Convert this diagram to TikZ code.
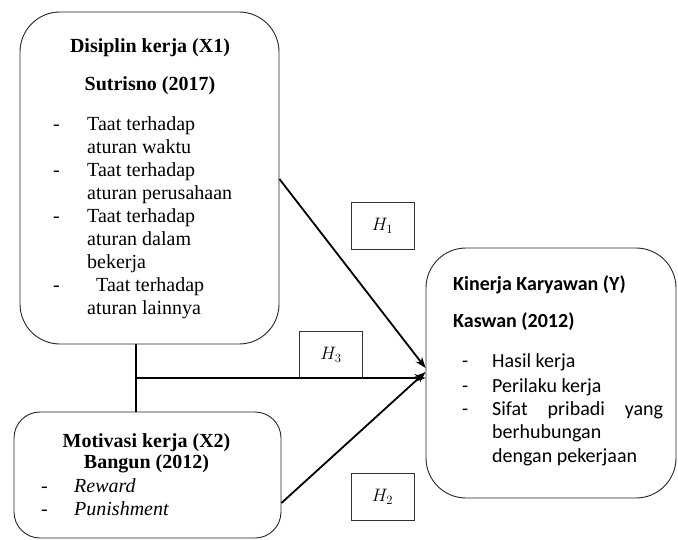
\RequirePackage{fix-cm}
\documentclass[tikz,border=0pt]{standalone}
\usepackage{fontspec}
\setmainfont{Liberation Serif}
\newfontfamily\calfont{Carlito}
\usetikzlibrary{arrows.meta,calc}
\begin{document}
\begin{tikzpicture}[x=1pt,y=-1pt,
  box/.style={draw=black!85,line width=0.9pt,rounded corners=#1,inner sep=0pt},
  box/.default=20pt,
  hbox/.style={draw=black!80,line width=0.9pt,minimum width=63pt,minimum height=47pt,inner sep=0pt,font=\fontsize{18}{21}\selectfont},
  conn/.style={line width=1.8pt},
  arr/.style={conn,-{Stealth[length=11pt,width=8pt]}},
  txt/.style={anchor=base west,inner sep=0pt,font=\fontsize{20}{23}\selectfont},
  head/.style={anchor=base,inner sep=0pt,font=\fontsize{20}{23}\selectfont\bfseries},
  ctxt/.style={anchor=base west,inner sep=0pt,font=\calfont\fontsize{20}{23}\selectfont},
  chead/.style={anchor=base west,inner sep=0pt,font=\calfont\fontsize{20}{23}\selectfont\bfseries}
]
\useasboundingbox (0,0) rectangle (678,539);

% boxes
\node[box=40pt,minimum width=259pt,minimum height=332pt] (x1) at (149.5,178) {};
\node[box=26pt,minimum width=267pt,minimum height=126pt] (x2) at (147.5,475) {};
\node[box=40pt,minimum width=250pt,minimum height=250pt] (y) at (551,373) {};

% X1 text
\node[head] (x1h1) at (150,52) {Disiplin kerja (X1)};
\node[head] (x1h2) at (150,90) {Sutrisno (2017)};
\foreach \yy/\d/\t/\n in {130/-/{Taat terhadap}/a1, 153//{aturan waktu}/a2,
  176/-/{Taat terhadap}/a3, 199//{aturan perusahaan}/a4,
  222/-/{Taat terhadap}/a5, 245//{aturan dalam}/a6, 268//{bekerja}/a7}{
  \node[txt] (d\n) at (53,\yy) {\d};
  \node[txt] (t\n) at (87,\yy) {\t};
}
\node[txt] (da8) at (53,291) {-};
\node[txt] (ta8) at (96,291) {Taat terhadap};
\node[txt] (ta9) at (87,314) {aturan lainnya};

% X2 text
\node[head] (x2h1) at (146.5,447) {Motivasi kerja (X2)};
\node[head] (x2h2) at (146.5,468) {Bangun (2012)};
\node[txt] (db1) at (41,492) {-};
\node[txt] (tb1) at (74,492) {\itshape Reward};
\node[txt] (db2) at (41,515) {-};
\node[txt] (tb2) at (74,515) {\itshape Punishment};

% Y text
\node[chead] (yh1) at (453,290) {Kinerja Karyawan (Y)};
\node[chead] (yh2) at (453,327) {Kaswan (2012)};
\node[ctxt] (dc1) at (462,367) {-};
\node[ctxt] (tc1) at (492,367) {Hasil kerja};
\node[ctxt] (dc2) at (462,392) {-};
\node[ctxt] (tc2) at (492,392) {Perilaku kerja};
\node[ctxt] (dc3) at (462,415) {-};
\node[ctxt] (tc3) at (492,415) {\makebox[171pt][s]{Sifat\hfil pribadi\hfil yang}};
\node[ctxt] (tc4) at (492,438) {berhubungan};
\node[ctxt] (tc5) at (492,462) {dengan pekerjaan};

% hypothesis boxes
\node[hbox] (h1) at (382.5,225.5) {$H_1$};
\node[hbox] (h3) at (331,354.5) {$H_3$};
\node[hbox] (h2) at (382.5,497) {$H_2$};

% connectors
\coordinate (j) at (136,378);
\coordinate (s1) at (x1.east |- 0,179);
\coordinate (s2) at (x2.east |- 0,503);
\coordinate (e1) at ($(y.west)+(0,-5)$);
\coordinate (e2) at ($(y.west)+(0,-1)$);
\draw[conn] (x1.south -| j) -- (x2.north -| j);
\draw[arr] (j) -- (y.west |- j);
\draw[arr] (s1) -- (e1);
\draw[arr] (s2) -- (e2);
\end{tikzpicture}
\end{document}
